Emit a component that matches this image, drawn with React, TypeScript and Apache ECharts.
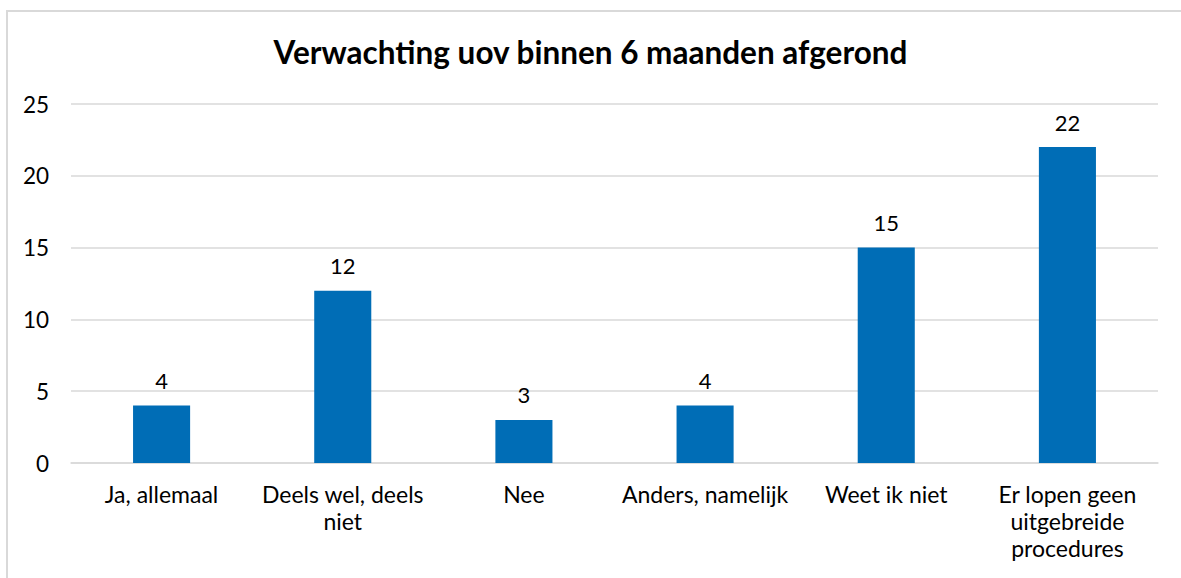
import React, { useEffect, useRef } from "react";
import * as echarts from "echarts";

const title = "Verwachting uov binnen 6 maanden afgerond";
const categories = [
  "Ja, allemaal",
  "Deels wel, deels\nniet",
  "Nee",
  "Anders, namelijk",
  "Weet ik niet",
  "Er lopen geen\nuitgebreide\nprocedures",
];
const values = [4, 12, 3, 4, 15, 22];
const yMin = 0;
const yMax = 25;
const yStep = 5;

const FONT = "'Source Sans Pro', Lato, 'Noto Sans', sans-serif";

export default function App() {
  const ref = useRef<HTMLDivElement>(null);
  useEffect(() => {
    if (!ref.current) return;
    const chart = echarts.init(ref.current, undefined, { renderer: "svg" });
    chart.setOption({
      animation: false,
      backgroundColor: "#ffffff",
      title: {
        text: title,
        left: "center",
        top: 31,
        textStyle: { fontFamily: FONT, fontSize: 31.5, fontWeight: "bold", color: "#000000" },
      },
      graphic: [
        {
          type: "rect",
          shape: { x: 7, y: 11, width: 1400, height: 800 },
          style: { fill: "none", stroke: "#d9d9d9", lineWidth: 2 },
          silent: true,
          z: 100,
        },
      ],
      grid: { left: 71, right: 23, top: 104, bottom: 115, containLabel: false },
      xAxis: {
        type: "category",
        data: categories,
        axisLine: { show: true, lineStyle: { color: "#d9d9d9", width: 1.5 } },
        axisTick: { show: false },
        axisLabel: {
          interval: 0,
          margin: 17,
          fontFamily: FONT,
          fontSize: 23,
          lineHeight: 27,
          color: "#000000",
          align: "center",
        },
      },
      yAxis: {
        type: "value",
        min: yMin,
        max: yMax,
        interval: yStep,
        axisLine: { show: false },
        axisTick: { show: false },
        splitLine: { lineStyle: { color: "#d9d9d9", width: 1.5 } },
        axisLabel: { margin: 22, fontFamily: FONT, fontSize: 22.5, color: "#000000" },
      },
      series: [
        {
          type: "bar",
          data: values,
          barWidth: "31.5%",
          itemStyle: { color: "#006DB6" },
          label: {
            show: true,
            position: "top",
            distance: 14,
            fontFamily: FONT,
            fontSize: 22,
            color: "#000000",
          },
        },
      ],
    });
    return () => chart.dispose();
  }, []);
  return (
    <div
      ref={ref}
      style={{ position: "absolute", left: 0, top: 0, width: 1181, height: 578, background: "#fff" }}
    />
  );
}
